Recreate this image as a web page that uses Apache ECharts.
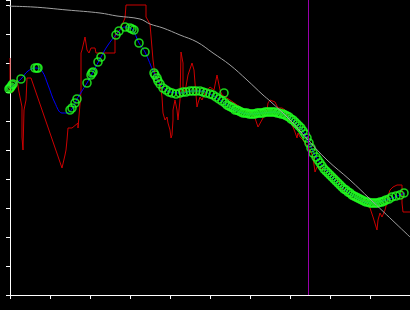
<!DOCTYPE html>
<html>
<head>
<meta charset="utf-8">
<script src="https://cdn.jsdelivr.net/npm/echarts@6/dist/echarts.min.js"></script>
<style>html,body{margin:0;padding:0;background:#000;}#c{width:410px;height:310px;}</style>
</head>
<body>
<div id="c"></div>
<script>
// x axis 0..400 (tick every 40), y axis 0..295 (tick every 29)
var rawSeries = [[0,237],[0,203],[3,203],[7,215],[8,215],[9,203],[11,203],[12,188],[12,158],[13,145],[14,145],[14,185],[15,190],[16,195],[17,217],[21,217],[52,127],[54,127],[55,140],[56,145],[57,155],[58,167],[62,167],[63,169],[68,172],[68,167],[70,167],[71,203],[71,242],[72,245],[75,258],[77,257],[77,245],[79,242],[81,247],[85,247],[86,242],[105,242],[105,260],[110,265],[115,277],[116,290],[136,290],[136,278],[140,271],[142,270],[143,235],[145,220],[150,212],[152,198],[153,182],[155,175],[157,178],[158,172],[160,165],[161,157],[162,160],[163,175],[163,185],[165,195],[167,185],[168,175],[170,195],[171,243],[172,245],[173,232],[173,208],[175,203],[178,220],[182,232],[183,233],[184,225],[185,212],[187,188],[188,192],[190,198],[192,195],[195,202],[200,208],[202,210],[204,205],[207,220],[208,220],[210,205],[212,200],[220,195],[230,188],[235,185],[240,183],[242,185],[245,177],[248,168],[250,170],[253,177],[257,185],[258,192],[260,195],[262,195],[265,193],[268,187],[272,187],[275,185],[280,175],[285,163],[287,157],[288,162],[290,158],[293,155],[300,145],[303,138],[305,123],[307,128],[310,128],[315,125],[320,120],[325,120],[330,110],[335,103],[340,98],[345,95],[350,93],[355,95],[360,87],[363,78],[365,78],[367,65],[368,75],[370,82],[372,78],[375,85],[377,93],[378,99],[380,105],[383,108],[387,110],[392,110],[392,92],[393,83],[400,83]];

var smoothSeries = [[0,207],[11,216],[18,224],[26,227],[32,224],[38,210],[45,192],[52,182],[57,182],[62,186],[67,196],[77,212],[83,223],[91,238],[98,250],[106,260],[115,268],[122,266],[129,252],[135,243],[144,222],[150,211],[160,203],[172,202],[182,204],[190,204],[200,201],[213,193],[225,185],[240,181],[253,182],[265,183],[275,180],[285,173],[293,164],[299,152],[308,135],[323,117],[342,100],[362,92],[376,95],[395,102]];

var observations = [[-1,206],[0,207],[1,208],[2,210],[3,211],[11,216],[25,227],[27,227],[28,227],[60,185],[62,187],[65,192],[67,196],[77,212],[81,220],[82,222],[83,223],[88,233],[91,238],[106,260],[109,264],[115,268],[120,267],[122,266],[124,265],[129,252],[135,243],[144,222],[145,220],[147,217],[148,214],[150,211],[153,207],[156,205],[159,203],[162,202],[166,201],[170,202],[173,203],[176,203],[180,204],[183,204],[186,204],[190,204],[193,203],[196,202],[200,201],[203,200],[206,198],[209,196],[212,194],[214,202],[215,192],[217,190],[219,189],[221,188],[223,187],[225,185],[227,185],[229,184],[231,183],[233,182],[235,182],[237,182],[239,181],[241,181],[243,181],[245,181],[247,182],[249,182],[251,182],[253,182],[255,183],[257,183],[259,183],[261,183],[263,183],[265,183],[267,182],[269,182],[271,181],[273,181],[275,180],[277,179],[279,178],[281,176],[283,175],[285,173],[287,171],[289,169],[291,167],[293,164],[295,161],[297,157],[299,152],[301,147],[303,142],[306,138],[308,135],[310,132],[312,129],[314,126],[316,124],[318,122],[320,120],[322,118],[324,116],[326,114],[328,112],[330,110],[332,108],[334,106],[336,105],[338,103],[340,102],[342,100],[344,99],[346,98],[348,97],[350,96],[352,95],[354,94],[356,93],[358,93],[360,92],[362,92],[364,92],[366,92],[368,92],[370,93],[372,93],[374,94],[376,95],[379,96],[382,98],[386,99],[390,100],[394,102]];

var envelope = [[-10,289],[23,288],[57,285],[90,282],[107,279],[130,276],[140,271],[153,267],[170,260],[187,253],[203,242],[220,230],[237,215],[253,200],[260,194],[280,175],[298,155],[317,135],[340,115],[360,96],[400,58]];

var markerX = [298.5];
var yExtent = [0, 295];

var chart = echarts.init(document.getElementById('c'), null, {renderer: 'canvas'});
chart.setOption({
  backgroundColor: '#000000',
  animation: false,
  grid: {left: 10, right: 0, top: 0, bottom: 15},
  xAxis: {
    type: 'value', min: 0, max: 400, interval: 40,
    axisLine: {show: true, lineStyle: {color: '#ffffff', width: 1}},
    axisTick: {show: true, inside: false, length: 4, lineStyle: {color: '#ffffff', width: 1}},
    axisLabel: {show: false},
    splitLine: {show: false}
  },
  yAxis: {
    type: 'value', min: 0, max: 295, interval: 29,
    axisLine: {show: true, lineStyle: {color: '#ffffff', width: 1}},
    axisTick: {show: true, inside: false, length: 4, lineStyle: {color: '#ffffff', width: 1}},
    axisLabel: {show: false},
    splitLine: {show: false}
  },
  series: [
    {type: 'line', data: rawSeries, showSymbol: false, clip: false, z: 2,
     lineStyle: {color: '#cc0000', width: 1}},
    {type: 'line', data: smoothSeries, smooth: 0.4, showSymbol: false, clip: false, z: 3,
     lineStyle: {color: '#0000ff', width: 1}},
    {type: 'scatter', data: observations, symbol: 'circle', symbolSize: 8, clip: false, z: 4,
     itemStyle: {color: 'rgba(0,0,0,0)', borderColor: '#22ff22', borderWidth: 1.6}},
    {type: 'line', data: envelope, smooth: 0.4, showSymbol: false, clip: false, z: 5,
     lineStyle: {color: '#a0a0a0', width: 1}},
    {type: 'line', data: [[markerX[0], yExtent[0]], [markerX[0], yExtent[1]]], showSymbol: false, clip: false, z: 6,
     lineStyle: {color: '#9900aa', width: 1}}
  ]
});
</script>
</body>
</html>
